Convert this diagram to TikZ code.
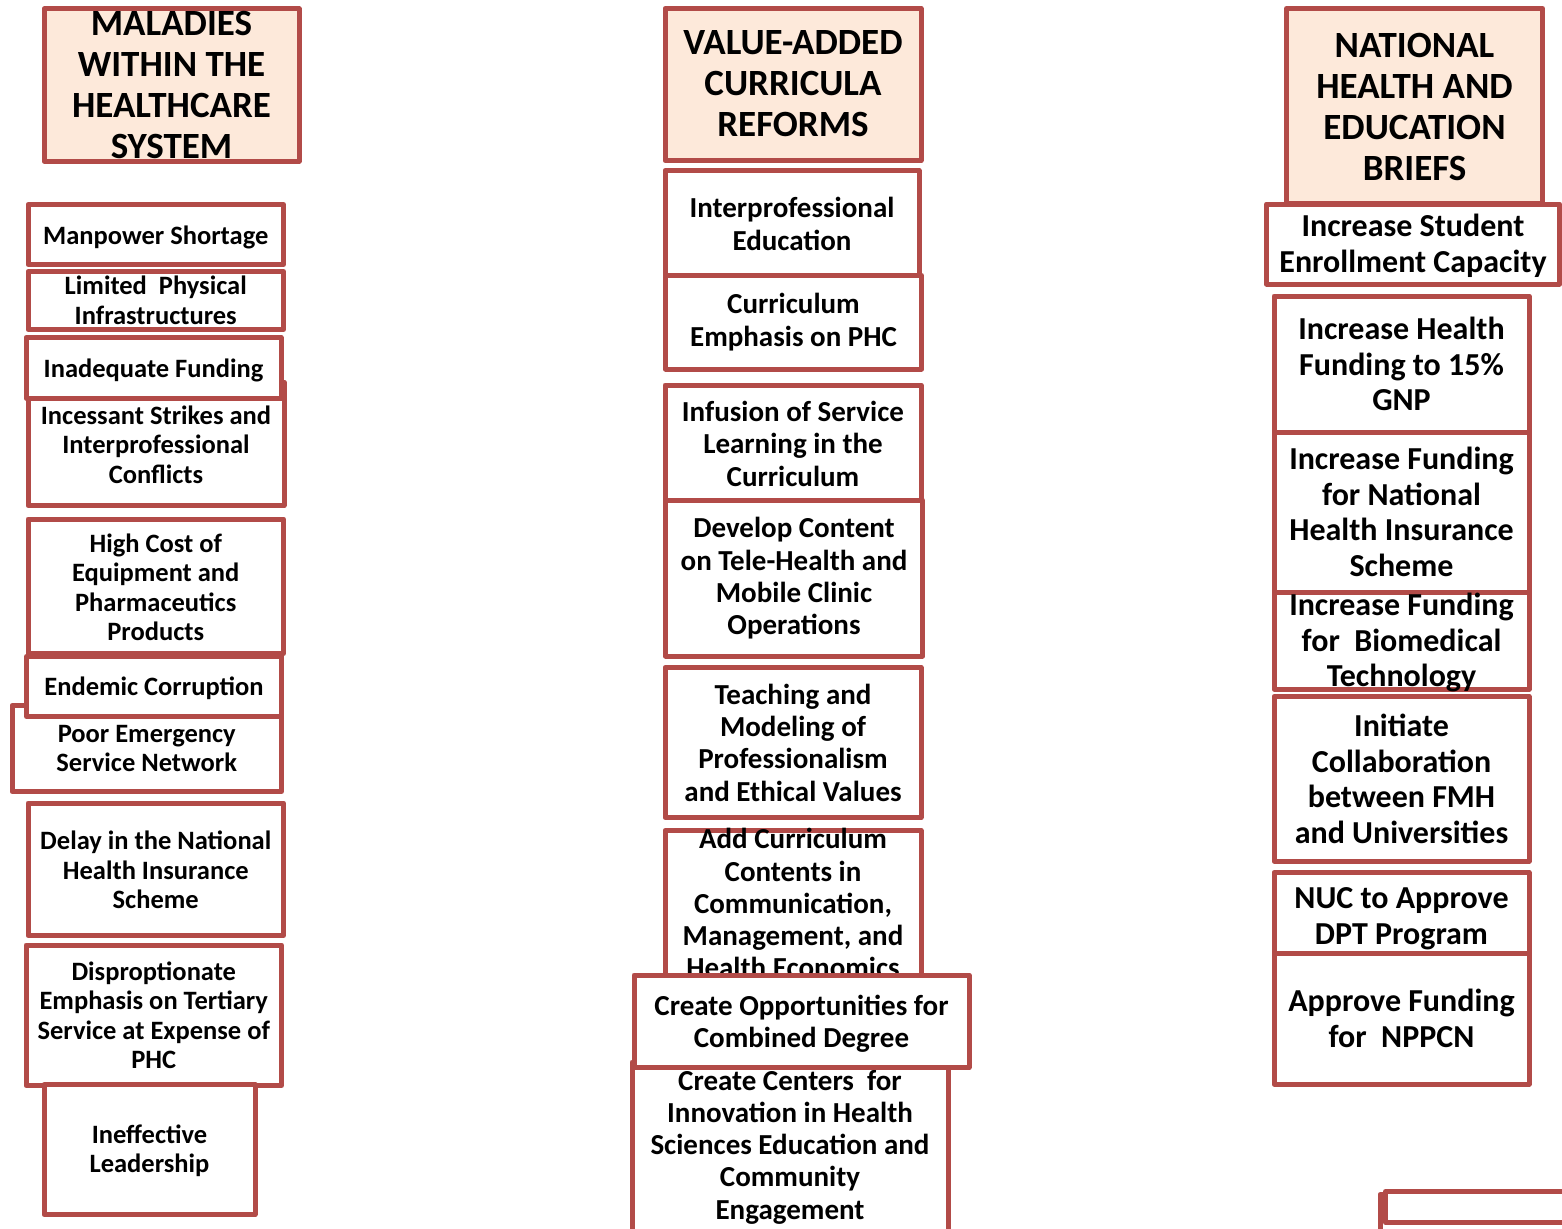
\documentclass[tikz,border=0pt]{standalone}
\usepackage{fontspec}
\setmainfont{Carlito}
\definecolor{boxred}{RGB}{178,75,72}
\definecolor{headfill}{RGB}{253,233,218}

\begin{document}
\begin{tikzpicture}[x=1pt, y=-1pt,
    box/.style={draw=boxred, line width=5pt, fill=white, inner sep=0pt, line join=round},
    head/.style={box, fill=headfill},
    htext/.style={align=center, font=\fontsize{37}{41}\selectfont\bfseries},
    ltext/.style={align=center, font=\fontsize{26.5}{29.5}\selectfont\bfseries},
    mtext/.style={align=center, font=\fontsize{29}{32.3}\selectfont\bfseries},
    rtext/.style={align=center, font=\fontsize{32}{35.5}\selectfont\bfseries}]
  \useasboundingbox (0,0) rectangle (1562,1228);
  \clip (0,0) rectangle (1562,1228);

  % maladies
  \node[head, minimum width=255pt, minimum height=152pt] (headL) at (171.5,85) {};
  \node[htext] (headL-t) at (headL) {MALADIES\\WITHIN THE\\HEALTHCARE\\SYSTEM};
  \node[box, minimum width=255.5pt, minimum height=60pt] (manpower) at (155.75,234.5) {};
  \node[ltext] (manpower-t) at (155.75,237) {Manpower Shortage};
  \node[box, minimum width=255.5pt, minimum height=58pt] (limited) at (155.75,300.5) {};
  \node[ltext] (limited-t) at (limited) {Limited\ \ Physical\\Infrastructures};
  \node[box, minimum width=256pt, minimum height=123.5pt] (strikes) at (156,443.75) {};
  \node[ltext] (strikes-t) at (156,444.75) {Incessant Strikes and\\Interprofessional\\Conflicts};
  \node[box, minimum width=255pt, minimum height=60.5pt] (funding) at (153.5,367.75) {};
  \node[ltext] (funding-t) at (153.5,370) {Inadequate Funding};
  \node[box, minimum width=255.5pt, minimum height=134.5pt] (cost) at (155.75,586.25) {};
  \node[ltext] (cost-t) at (155.75,587.25) {High Cost of\\Equipment and\\Pharmaceutics\\Products};
  \node[box, minimum width=269.5pt, minimum height=86pt] (emergency) at (146.75,748.5) {};
  \node[ltext] (emergency-t) at (emergency) {Poor Emergency\\Service Network};
  \node[box, minimum width=255pt, minimum height=60pt] (corruption) at (154,686.5) {};
  \node[ltext] (corruption-t) at (154,688.5) {Endemic Corruption};
  \node[box, minimum width=255.5pt, minimum height=132.5pt] (delay) at (155.75,869.25) {};
  \node[ltext] (delay-t) at (155.75,870.25) {Delay in the National\\Health Insurance\\Scheme};
  \node[box, minimum width=255.5pt, minimum height=140.5pt] (tertiary) at (153.75,1015.25) {};
  \node[ltext] (tertiary-t) at (tertiary) {Disproptionate\\Emphasis on Tertiary\\Service at Expense of\\PHC};
  \node[box, minimum width=211pt, minimum height=130pt] (leadership) at (149.5,1149.5) {};
  \node[ltext] (leadership-t) at (149.5,1151) {Ineffective\\Leadership};

  % curricula reforms
  \node[head, minimum width=256pt, minimum height=152pt] (headM) at (793,84.5) {};
  \node[htext] (headM-t) at (793,83.5) {VALUE-ADDED\\CURRICULA\\REFORMS};
  \node[box, minimum width=254pt, minimum height=107pt] (ipe) at (792,224) {};
  \node[mtext] (ipe-t) at (ipe) {Interprofessional\\Education};
  \node[box, minimum width=256pt, minimum height=93.5pt] (phc) at (793.5,322.25) {};
  \node[mtext] (phc-t) at (phc) {Curriculum\\Emphasis on PHC};
  \node[box, minimum width=256pt, minimum height=117.5pt] (service) at (793,443.75) {};
  \node[mtext] (service-t) at (service) {Infusion of Service\\Learning in the\\Curriculum};
  \node[box, minimum width=257pt, minimum height=156pt] (telehealth) at (794,578) {};
  \node[mtext] (telehealth-t) at (794,578.5) {Develop Content\\on Tele-Health and\\Mobile Clinic\\Operations};
  \node[box, minimum width=256pt, minimum height=150pt] (ethics) at (793,742.5) {};
  \node[mtext] (ethics-t) at (ethics) {Teaching and\\Modeling of\\Professionalism\\and Ethical Values};
  \node[box, minimum width=256pt, minimum height=145.5pt] (contents) at (793,903.25) {};
  \node[mtext] (contents-t) at (contents) {Add Curriculum\\Contents in\\Communication,\\Management, and\\Health Economics};
  \node[box, minimum width=316pt, minimum height=170pt] (centers) at (790,1147) {};
  \node[mtext] (centers-t) at (790,1147) {Create Centers\ \ for\\Innovation in Health\\Sciences Education and\\Community\\Engagement};
  \node[box, minimum width=335pt, minimum height=92.5pt] (degree) at (801.5,1021.25) {};
  \node[mtext] (degree-t) at (801.5,1024) {Create Opportunities for\\Combined Degree};

  % briefs
  \node[head, minimum width=256pt, minimum height=194.5pt] (headR) at (1414.5,105.75) {};
  \node[htext] (headR-t) at (1414.5,106.75) {NATIONAL\\HEALTH AND\\EDUCATION\\BRIEFS};
  \node[box, minimum width=293pt, minimum height=80pt] (enroll) at (1413,244) {};
  \node[rtext] (enroll-t) at (1413,246) {Increase Student\\Enrollment Capacity};
  \node[box, minimum width=255pt, minimum height=136pt] (gnp) at (1401.5,364) {};
  \node[rtext] (gnp-t) at (gnp) {Increase Health\\Funding to 15\%\\GNP};
  \node[box, minimum width=255pt, minimum height=160pt] (nhis) at (1401.5,512) {};
  \node[rtext] (nhis-t) at (nhis) {Increase Funding\\for National\\Health Insurance\\Scheme};
  \node[box, minimum width=255pt, minimum height=97pt] (biomed) at (1401.5,640.5) {};
  \node[rtext] (biomed-t) at (1401.5,642.5) {Increase Funding\\for\ \ Biomedical\\Technology};
  \node[box, minimum width=255pt, minimum height=164.5pt] (fmh) at (1401.5,778.75) {};
  \node[rtext] (fmh-t) at (fmh) {Initiate\\Collaboration\\between FMH\\and Universities};
  \node[box, minimum width=255pt, minimum height=86.5pt] (dpt) at (1401.5,915.75) {};
  \node[rtext] (dpt-t) at (1401.5,918.5) {NUC to Approve\\DPT Program};
  \node[box, minimum width=255pt, minimum height=131pt] (nppcn) at (1401.5,1018.5) {};
  \node[rtext] (nppcn-t) at (nppcn) {Approve Funding\\for\ \ NPPCN};
  \node[box, minimum width=200pt, minimum height=66pt] (extraA) at (1480,1227.5) {};
  \node[box, minimum width=194.5pt, minimum height=31pt] (extraB) at (1482.75,1207) {};
\end{tikzpicture}
\end{document}
